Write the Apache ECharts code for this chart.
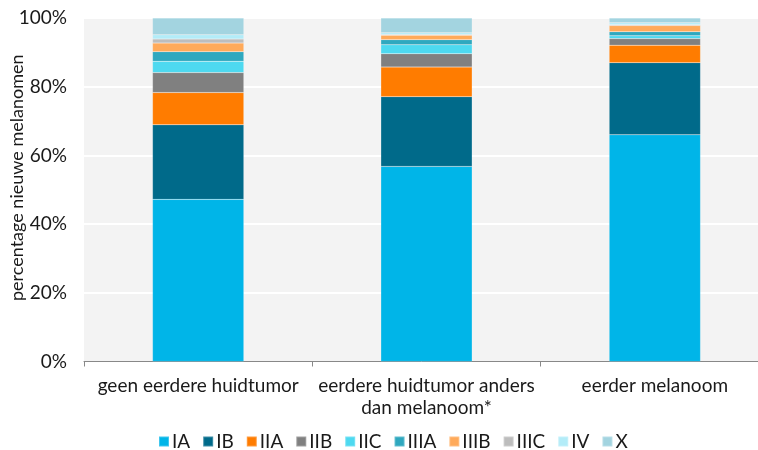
<!DOCTYPE html>
<html><head><meta charset="utf-8">
<script src="https://cdn.jsdelivr.net/npm/echarts@6/dist/echarts.min.js"></script>
<style>html,body{margin:0;padding:0;background:#fff}#c{width:758px;height:450px}</style>
</head><body><div id="c"></div>
<script>
const categories = ['geen eerdere huidtumor', 'eerdere huidtumor anders\ndan melanoom*', 'eerder melanoom'];
const stages = ['IA','IB','IIA','IIB','IIC','IIIA','IIIB','IIIC','IV','X'];
const IA   = [47.2, 56.8, 66.0];
const IB   = [21.7, 20.3, 21.0];
const IIA  = [9.4, 8.6, 5.1];
const IIB  = [5.8, 3.9, 1.9];
const IIC  = [3.3, 2.6, 0.8];
const IIIA = [2.8, 1.5, 1.2];
const IIIB = [2.5, 1.3, 1.8];
const IIIC = [1.2, 0.2, 0.2];
const IV   = [1.2, 0.5, 0.6];
const X    = [4.9, 4.3, 1.4];
const yTicks = ['0%','20%','40%','60%','80%','100%'];
const values = [IA, IB, IIA, IIB, IIC, IIIA, IIIB, IIIC, IV, X];
const colors = ['#00b5e8','#006a8a','#ff7c00','#808080','#4dd9f0','#2fa8bf','#ffaa5a','#bdbdbd','#b3ecf8','#a3d4e0'];
const FONT = 'Lato';
const chart = echarts.init(document.getElementById('c'));
chart.setOption({
  animation: false,
  textStyle: {fontFamily: FONT},
  grid: {left: 84, right: -11, top: 18, bottom: 88.5, backgroundColor: '#f3f3f3', show: true, borderWidth: 0,
    outerBoundsMode: 'none', containLabel: false},
  legend: {
    data: stages, left: 153, top: 427,
    itemWidth: 10, itemHeight: 10, itemGap: 12, icon: 'rect',
    textStyle: {fontFamily: FONT, fontSize: 19, color: '#1a1a1a', padding: [0,0,0,-2]}
  },
  xAxis: {
    type: 'category', data: categories,
    axisLine: {lineStyle: {color: '#888', width: 1}},
    axisTick: {show: true, length: 5, lineStyle: {color: '#888'}},
    axisLabel: {fontFamily: FONT, fontSize: 19, color: '#1a1a1a', margin: 13, lineHeight: 22, interval: 0}
  },
  yAxis: {
    type: 'value', min: 0, max: 100, interval: 20,
    name: 'percentage nieuwe melanomen', nameLocation: 'middle', nameGap: 58, nameMoveOverlap: false,
    nameTextStyle: {fontFamily: FONT, fontSize: 18, color: '#1a1a1a', padding: [0, 0, 0, 24]},
    axisLine: {show: false}, axisTick: {show: false},
    axisLabel: {fontFamily: FONT, fontSize: 19, color: '#1a1a1a', margin: 17,
      formatter: v => yTicks[Math.round(v / 20)]},
    splitLine: {lineStyle: {color: '#ffffff', width: 2}}
  },
  series: stages.map((s, i) => ({
    name: s, type: 'bar', stack: 'total', data: values[i], barWidth: '40%',
    itemStyle: {color: colors[i], borderColor: 'rgba(255,255,255,0.25)', borderWidth: 0.5}
  }))
});
</script></body></html>
